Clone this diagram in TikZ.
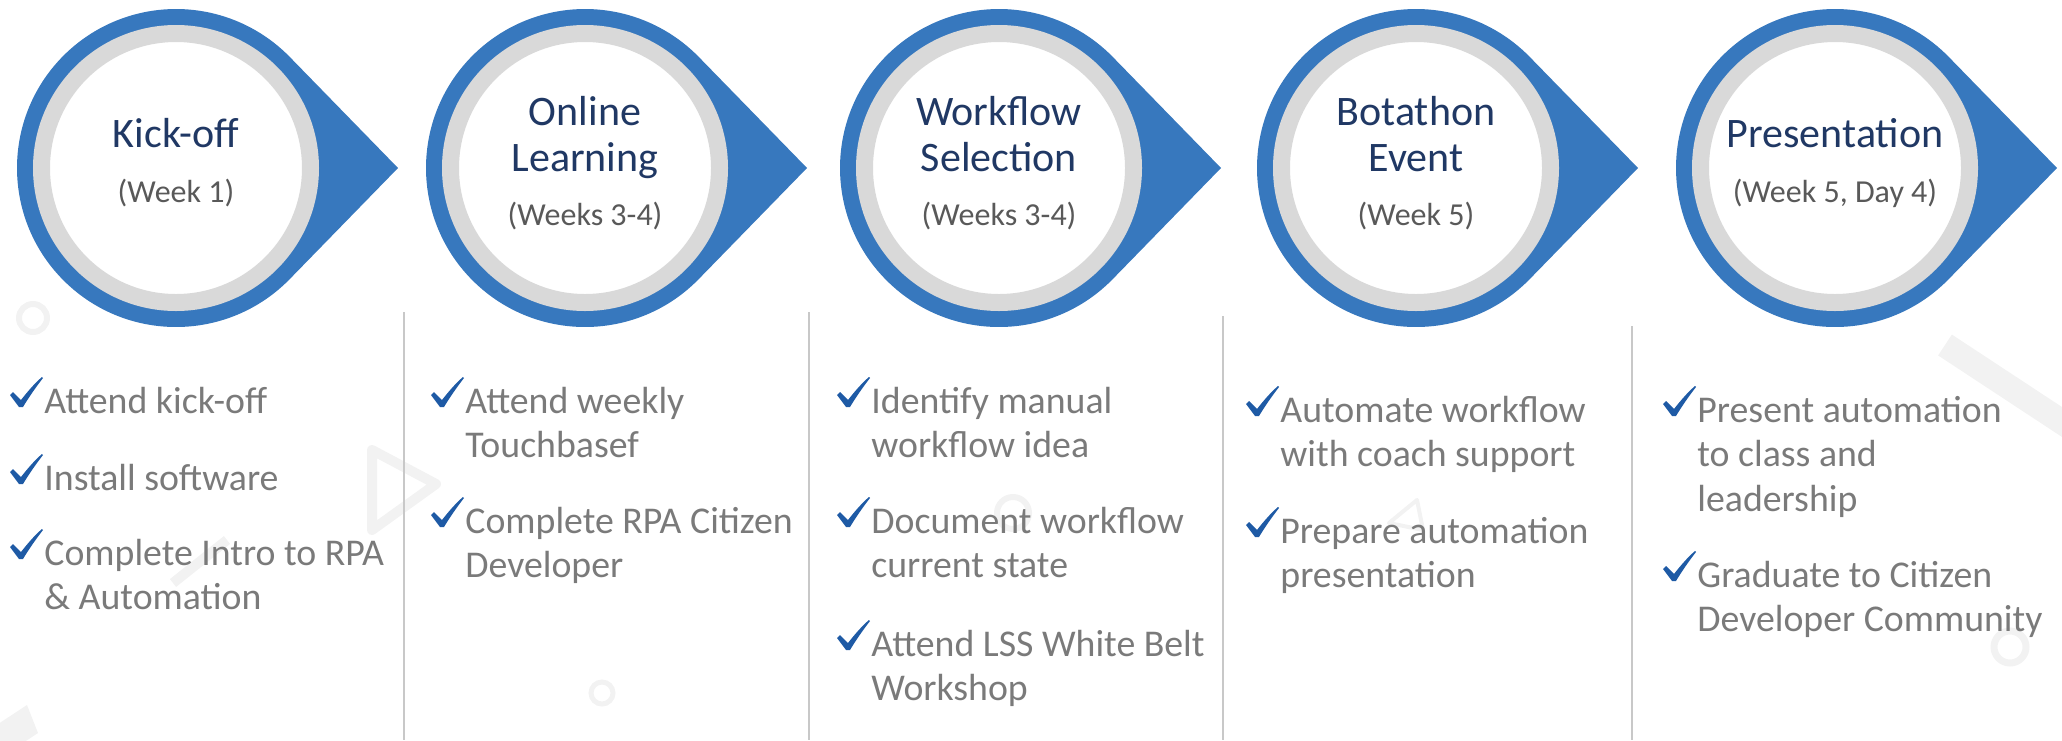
\documentclass[tikz,border=0pt]{standalone}
\usepackage{fontspec}
\setmainfont{Carlito}
\usetikzlibrary{calc,positioning}

\definecolor{stageblue}{HTML}{3778BE}
\definecolor{ringgray}{HTML}{D9D9D9}
\definecolor{titleblue}{HTML}{203864}
\definecolor{subgray}{HTML}{595959}
\definecolor{bodygray}{HTML}{7A7A7A}
\definecolor{checkblue}{HTML}{1E5AA5}
\definecolor{sepgray}{HTML}{C8C8C8}
\definecolor{faint}{HTML}{F2F2F2}

% lines of one task, baseline on the first line
\newcommand{\tasklines}[1]{\vtop{\halign{##\hfil\cr#1\crcr}}}

\tikzset{
  stage/.style={circle,fill=white,draw=ringgray,line width=8.5pt,minimum size=134.5pt,inner sep=0pt},
  drop/.style={fill=stageblue},
  ttl/.style={anchor=base,align=center,inner sep=0pt,text=titleblue,font=\fontsize{21}{23}\selectfont},
  subttl/.style={anchor=base,inner sep=0pt,text=subgray,font=\fontsize{16}{19}\selectfont},
  item/.style={anchor=base west,inner sep=0pt,text=bodygray,font=\fontsize{18.9}{22.25}\selectfont},
  divider/.style={draw=sepgray,line width=1.2pt},
  deco/.style={draw=faint},
  chk/.pic={\fill[checkblue] (-34,-18) -- (-31,-21) -- (-23,-13)
      .. controls (-16,-22) and (-9,-30) .. (-2,-36) -- (-1,-35)
      .. controls (-8,-26) and (-15,-16) .. (-21,-6) -- (-25,-6) -- cycle;}
}

\begin{document}
\begin{tikzpicture}[x=0.5pt,y=-0.5pt]
\useasboundingbox (0,0) rectangle (2062,740);

% faint background marks
\draw[deco,line width=3pt] (33,318) circle[radius=14];
\draw[deco,line width=5pt,line join=round] (372,450) -- (372,530) -- (436,484) -- cycle;
\draw[deco,line width=5pt] (173,583) -- (227,540);
\fill[faint] (-8,728) -- (27,705) -- (38,733) -- (3,756) -- cycle;
\draw[deco,line width=2.5pt] (602,693) circle[radius=11];
\draw[deco,line width=3pt] (1013,513) circle[radius=16];
\draw[deco,line width=2pt,line join=round] (1417,500) -- (1389,523) -- (1423,530) -- cycle;
\draw[deco,line width=12.5pt] (1945,345) -- (2100,447);
\draw[deco,line width=3.5pt] (2010,647) circle[radius=16];

% stages
\coordinate (p1) at (176,168);
\coordinate (p2) at (585,168);
\coordinate (p3) at (999,168);
\coordinate (p4) at (1416,168);
\coordinate (p5) at (1835,168);
\fill[drop] ($(p1)+(222,0)$) -- ($(p1)+(44.3:159)$) arc[start angle=44.3,end angle=315.7,radius=159] -- cycle;
\fill[drop] ($(p2)+(222,0)$) -- ($(p2)+(44.3:159)$) arc[start angle=44.3,end angle=315.7,radius=159] -- cycle;
\fill[drop] ($(p3)+(222,0)$) -- ($(p3)+(44.3:159)$) arc[start angle=44.3,end angle=315.7,radius=159] -- cycle;
\fill[drop] ($(p4)+(222,0)$) -- ($(p4)+(44.3:159)$) arc[start angle=44.3,end angle=315.7,radius=159] -- cycle;
\fill[drop] ($(p5)+(222,0)$) -- ($(p5)+(44.3:159)$) arc[start angle=44.3,end angle=315.7,radius=159] -- cycle;
\node[stage] (c1) at (p1) {};
\node[stage] (c2) at (p2) {};
\node[stage] (c3) at (p3) {};
\node[stage] (c4) at (p4) {};
\node[stage] (c5) at (p5) {};

\node[ttl] (t1) at (176,147) {Kick-off};
\node[subttl] (s1) at (176,202) {(Week 1)};
\node[ttl] (t2) at (585,171) {Online\\Learning};
\node[subttl] (s2) at (585,225) {(Weeks 3-4)};
\node[ttl] (t3) at (999,171) {Workflow\\Selection};
\node[subttl] (s3) at (999,225) {(Weeks 3-4)};
\node[ttl] (t4) at (1416,171) {Botathon\\Event};
\node[subttl] (s4) at (1416,225) {(Week 5)};
\node[ttl] (t5) at (1835,147) {Presentation};
\node[subttl] (s5) at (1835,202) {(Week 5, Day 4)};

% column dividers
\draw[divider] (404,312) -- (404,740);
\draw[divider] (809,312) -- (809,740);
\draw[divider] (1223,316) -- (1223,740);
\draw[divider] (1632,326) -- (1632,740);

% task lists
\node[item] (a1) at (44,413) {Attend kick-off};
\node[item] (a2) at (44,490) {Install software};
\node[item] (a3) at (44,565) {\tasklines{Complete Intro to RPA\cr\& Automation}};
\node[item] (b1) at (465,413) {\tasklines{Attend weekly\cr Touchbasef}};
\node[item] (b2) at (465,533) {\tasklines{Complete RPA Citizen\cr Developer}};
\node[item] (w1) at (871,413) {\tasklines{Identify manual\cr workflow idea}};
\node[item] (w2) at (871,533) {\tasklines{Document workflow\cr current state}};
\node[item] (w3) at (871,656) {\tasklines{Attend LSS White Belt\cr Workshop}};
\node[item] (e1) at (1280,422) {\tasklines{Automate workflow\cr with coach support}};
\node[item] (e2) at (1280,543) {\tasklines{Prepare automation\cr presentation}};
\node[item] (r1) at (1697,422) {\tasklines{Present automation\cr to class and\cr leadership}};
\node[item] (r2) at (1697,587) {\tasklines{Graduate to Citizen\cr Developer Community}};

\pic at (a1.base west) {chk};
\pic at (a2.base west) {chk};
\pic at (a3.base west) {chk};
\pic at (b1.base west) {chk};
\pic at (b2.base west) {chk};
\pic at (w1.base west) {chk};
\pic at (w2.base west) {chk};
\pic at (w3.base west) {chk};
\pic at (e1.base west) {chk};
\pic at (e2.base west) {chk};
\pic at (r1.base west) {chk};
\pic at (r2.base west) {chk};
\end{tikzpicture}
\end{document}
